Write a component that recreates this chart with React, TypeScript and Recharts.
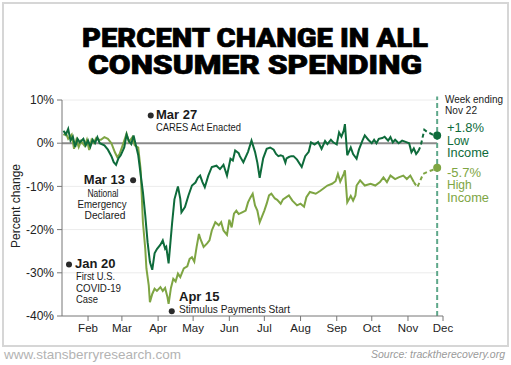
import React from "react";
import {
  LineChart,
  Line,
  XAxis,
  YAxis,
  ReferenceLine,
  ReferenceDot,
} from "recharts";

// Days are counted from Jan 1, 2020 (day 0). Values are % change vs. January.
const MONTH_TICKS = [31, 60, 91, 121, 152, 182, 213, 244, 274, 305, 335];
const MONTH_LABELS = ["Feb", "Mar", "Apr", "May", "Jun", "Jul", "Aug", "Sep", "Oct", "Nov", "Dec"];
const Y_TICKS = [10, 0, -10, -20, -30, -40];
const GRID_LEVELS = [10, -10, -20, -30];
const X_START = 8.7;
const LAST_DAY = 330; // week ending Nov 22

// Low income, solid part
const LOW_INCOME: [number, number][] = [
  [10, 2.9], [12, 2.0], [14, 3.3], [16, 0.6], [18, 1.5], [20, -0.9], [22, 1.0], [24, 0.2],
  [27, 1.0], [29, -0.5], [31, 0.6], [33, -0.8], [35, 0.8], [37, 0.0], [39, 1.4], [41, 0.0],
  [45, -0.5], [48, -1.5], [51, -3.0], [53, -4.4], [55, -5.0], [57, -3.5], [59, -2.8], [62, -1.0],
  [64, 2.0], [66, 0.5], [68, -0.2], [70, 1.8], [72, -0.5], [74, -2.8], [76, -7.1], [78, -11.3],
  [80, -16.7], [82, -22.9], [84, -27.5], [86, -29.3], [88, -25.5], [90, -24.5], [93, -23.5],
  [95, -22.5], [97, -24.4], [98, -24.0], [100, -27.8], [103, -18.5], [105, -13.0], [108, -10.0],
  [110, -12.9], [111, -16.0], [114, -14.8], [117, -12.1], [120, -9.8], [123, -9.1], [125, -8.0],
  [127, -7.5], [129, -9.0], [131, -10.2], [134, -7.5], [137, -5.5], [141, -5.2], [144, -6.0],
  [147, -5.0], [150, -7.5], [153, -3.6], [155, -4.0], [157, -1.7], [160, -2.3], [161, -3.0],
  [164, -4.4], [168, -2.0], [171, 0.6], [174, -2.0], [176, -4.5], [178, -8.0], [181, -3.5],
  [184, -1.3], [187, -1.0], [190, -1.5], [192, -2.5], [194, -3.0], [196, -2.8], [198, -3.0],
  [200, -4.5], [201, -3.5], [203, -3.2], [205, -3.0], [207, -3.0], [210, -3.8], [214, -5.5],
  [217, -3.0], [220, -2.0], [222, 0.2], [225, -0.3], [228, 0.3], [231, -1.3], [234, 0.5],
  [236, -0.2], [239, 0.8], [241, 0.2], [244, -0.3], [246, 2.5], [248, 1.5], [250, 2.9],
  [251, 4.4], [253, -2.8], [256, -1.0], [258, -2.5], [261, -3.6], [263, -1.5], [266, 0.6],
  [268, 1.8], [271, 0.8], [274, 0.0], [276, 0.8], [278, 0.0], [280, 1.0], [283, 1.2],
  [285, 1.5], [288, 0.6], [290, 1.4], [292, 0.2], [294, 0.8], [297, 0.0], [300, 0.6],
  [303, 0.3], [306, 0.0], [308, -2.1], [310, -1.2], [312, -2.5], [314, -1.8],
];
// Low income, latest weeks (dashed)
const LOW_INCOME_RECENT: [number, number][] = [
  [314, -1.8], [316, -0.5], [319, 3.1], [322, 2.5], [324, 2.3], [326, 2.0], [330, 1.8],
];

// High income, solid part
const HIGH_INCOME: [number, number][] = [
  [10, 1.8], [12, 2.4], [14, 1.0], [17, 2.0], [19, -1.3], [21, 0.8], [23, -0.9], [25, 0.5],
  [28, -0.6], [30, 0.8], [32, -1.6], [34, 0.8], [36, 0.1], [38, 1.2], [40, 0.8], [42, 0.8],
  [45, 1.4], [48, 1.0], [51, 0.0], [54, -2.1], [56, -3.2], [58, -2.5], [61, -0.2], [64, 2.2],
  [66, 0.3], [69, 1.4], [71, -0.5], [74, -1.0], [76, -6.0], [77, -12.1], [78, -18.3],
  [80, -24.4], [81, -29.0], [83, -32.9], [84, -36.8], [86, -34.9], [88, -33.7], [90, -34.2],
  [93, -33.3], [95, -34.2], [97, -33.5], [99, -35.6], [100, -37.2], [102, -33.5], [104, -31.4],
  [106, -32.0], [108, -30.2], [110, -31.0], [113, -29.0], [116, -28.5], [118, -26.8],
  [120, -26.4], [122, -27.4], [124, -24.0], [126, -21.0], [127, -22.0], [130, -24.0],
  [133, -23.2], [135, -22.5], [137, -20.2], [140, -18.3], [143, -19.0], [145, -18.3],
  [147, -20.2], [150, -21.2], [152, -17.7], [154, -19.5], [156, -16.3], [158, -15.6],
  [160, -16.4], [163, -16.0], [166, -15.6], [168, -13.7], [170, -12.6], [172, -11.7],
  [174, -14.4], [176, -15.6], [178, -18.3], [182, -15.6], [184, -14.0], [186, -12.1],
  [188, -11.7], [191, -12.8], [193, -13.1], [196, -14.0], [198, -13.0], [203, -12.1],
  [206, -13.3], [210, -14.4], [213, -14.0], [216, -14.7], [218, -12.5], [221, -11.3],
  [226, -11.7], [230, -11.0], [236, -9.8], [240, -9.4], [243, -8.8], [245, -7.1], [247, -8.9],
  [250, -7.1], [251, -6.3], [253, -13.7], [256, -12.2], [258, -13.3], [260, -12.1],
  [261, -9.8], [264, -8.6], [268, -9.8], [273, -9.4], [277, -9.8], [281, -9.0], [284, -7.9],
  [287, -9.0], [290, -7.5], [294, -8.3], [297, -7.9], [301, -7.5], [304, -8.3], [307, -7.5],
  [310, -9.0],
];
// High income, latest weeks (dashed)
const HIGH_INCOME_RECENT: [number, number][] = [
  [310, -9.0], [313, -10.2], [315, -9.0], [318, -7.1], [322, -6.6], [326, -6.2], [330, -5.7],
];

// Event markers: [day, value]
const EVENT_DOTS: [number, number][] = [
  [14.7, -28.1], // Jan 20
  [69.6, -8.6], // Mar 13
  [84.7, 6.4], // Mar 27
  [102.7, -38.9], // Apr 15
];

const DARK = "#0e6b3b";
const LIGHT = "#7ea543";
const SANS = "'Liberation Sans', Arial, sans-serif";

const toRows = (pts: [number, number][]) => pts.map(([day, v]) => ({ day, v }));

// small condensed note text (squeezed to the width it has in the original)
function Note({ x, y, w, anchor = "start", children }: { x: number; y: number; w: number; anchor?: string; children: string }) {
  return (
    <text x={x} y={y} textAnchor={anchor} fontSize={11.5} textLength={w} lengthAdjust="spacingAndGlyphs">
      {children}
    </text>
  );
}

export default function App() {
  const low = toRows(LOW_INCOME);
  const lowRecent = toRows(LOW_INCOME_RECENT);
  const high = toRows(HIGH_INCOME);
  const highRecent = toRows(HIGH_INCOME_RECENT);

  return (
    <div style={{ position: "absolute", left: 0, top: 0, width: 511, height: 365, background: "#fff" }}>
      <LineChart
        width={511}
        height={365}
        margin={{ top: 100, right: 68, bottom: 19, left: 0 }}
        style={{ position: "absolute", left: 0, top: 0, fontFamily: SANS }}
      >
        <XAxis
          type="number"
          dataKey="day"
          domain={[X_START, 335]}
          ticks={MONTH_TICKS}
          tickFormatter={(d) => MONTH_LABELS[MONTH_TICKS.indexOf(d)] ?? ""}
          allowDataOverflow
          height={30}
          tickSize={5}
          tickMargin={3}
          stroke="#777"
          tick={{ fill: "#222", fontSize: 11.5 }}
        />
        <YAxis
          type="number"
          domain={[-40, 10]}
          ticks={Y_TICKS}
          tickFormatter={(v) => `${v}%`}
          width={62}
          tickSize={5}
          tickMargin={3}
          stroke="#777"
          tick={{ fill: "#222", fontSize: 12 }}
        />
        {GRID_LEVELS.map((y) => (
          <ReferenceLine
            key={y}
            segment={[{ x: X_START, y }, { x: LAST_DAY, y }]}
            stroke="#ececec"
            strokeWidth={1}
          />
        ))}
        <ReferenceLine
          segment={[{ x: X_START, y: 0 }, { x: LAST_DAY, y: 0 }]}
          stroke="#8c8c8c"
          strokeWidth={2}
        />
        <ReferenceLine
          segment={[{ x: LAST_DAY, y: -40 }, { x: LAST_DAY, y: 10.8 }]}
          stroke="#5ea88a"
          strokeWidth={2}
          strokeDasharray="5 3"
          ifOverflow="visible"
        />
        <Line data={high} dataKey="v" type="linear" stroke={LIGHT} strokeWidth={2} dot={false} isAnimationActive={false} />
        <Line data={highRecent} dataKey="v" type="linear" stroke={LIGHT} strokeWidth={2} strokeDasharray="4 3" dot={false} isAnimationActive={false} />
        <Line data={low} dataKey="v" type="linear" stroke={DARK} strokeWidth={2} dot={false} isAnimationActive={false} />
        <Line data={lowRecent} dataKey="v" type="linear" stroke={DARK} strokeWidth={2} strokeDasharray="4 3" dot={false} isAnimationActive={false} />
        <ReferenceDot x={LAST_DAY} y={LOW_INCOME_RECENT[LOW_INCOME_RECENT.length - 1][1]} r={4} fill={DARK} stroke="none" />
        <ReferenceDot x={LAST_DAY} y={HIGH_INCOME_RECENT[HIGH_INCOME_RECENT.length - 1][1]} r={4} fill={LIGHT} stroke="none" />
        {EVENT_DOTS.map(([x, y]) => (
          <ReferenceDot key={x} x={x} y={y} r={3} fill="#2a2a2a" stroke="none" ifOverflow="visible" />
        ))}
      </LineChart>

      <svg width={511} height={365} style={{ position: "absolute", left: 0, top: 0, pointerEvents: "none" }}>
        <rect x={3} y={3} width={505} height={343} fill="none" stroke="#d6d6d6" strokeWidth={2} />

        {/* title */}
        <g fontFamily="Roboto, Lato, 'Liberation Sans', sans-serif" fontWeight={900} fontSize={26} fill="#000" stroke="#000" strokeWidth={0.7}>
          <text x={255} y={47} textAnchor="middle" textLength={346} lengthAdjust="spacingAndGlyphs">PERCENT CHANGE IN ALL</text>
          <text x={255} y={74} textAnchor="middle" textLength={334} lengthAdjust="spacingAndGlyphs">CONSUMER SPENDING</text>
        </g>

        <text transform="translate(20,206) rotate(-90)" textAnchor="middle" fontFamily={SANS} fontSize={12} fill="#222">
          Percent change
        </text>

        {/* event notes */}
        <g fontFamily={SANS} fill="#1a1a1a">
          <text x={156} y={119} fontWeight={700} fontSize={13}>Mar 27</text>
          <Note x={156} y={131} w={85}>CARES Act Enacted</Note>

          <text x={125} y={184} textAnchor="end" fontWeight={700} fontSize={13}>Mar 13</text>
          <Note x={103} y={197} w={31} anchor="middle">National</Note>
          <Note x={102} y={208} w={49} anchor="middle">Emergency</Note>
          <Note x={105} y={219} w={41} anchor="middle">Declared</Note>

          <text x={75} y={268} fontWeight={700} fontSize={13}>Jan 20</text>
          <Note x={76} y={280} w={39}>First U.S.</Note>
          <Note x={76} y={292} w={45}>COVID-19</Note>
          <Note x={76} y={303} w={22}>Case</Note>

          <text x={179} y={301} fontWeight={700} fontSize={13}>Apr 15</text>
          <Note x={179} y={313} w={111}>Stimulus Payments Start</Note>

          <Note x={445} y={102.5} w={58}>Week ending</Note>
          <Note x={445} y={113.5} w={32}>Nov 22</Note>
        </g>

        <g fontFamily={SANS} fontSize={12}>
          <text x={447} y={132} fill={DARK} textLength={37} lengthAdjust="spacingAndGlyphs">+1.8%</text>
          <text x={447} y={144.5} fill={DARK}>Low</text>
          <text x={447} y={157} fill={DARK} textLength={42} lengthAdjust="spacingAndGlyphs">Income</text>
          <text x={447} y={176.5} fill={LIGHT} textLength={34} lengthAdjust="spacingAndGlyphs">-5.7%</text>
          <text x={447} y={189} fill={LIGHT}>High</text>
          <text x={447} y={201.5} fill={LIGHT} textLength={42} lengthAdjust="spacingAndGlyphs">Income</text>
        </g>

        <text x={4} y={358.5} fontFamily={SANS} fontSize={13.5} fill="#b3b3b3">www.stansberryresearch.com</text>
        <text x={505} y={357.5} textAnchor="end" fontFamily={SANS} fontStyle="italic" fontSize={10.5} fill="#9a9a9a">
          Source: tracktherecovery.org
        </text>
      </svg>
    </div>
  );
}
